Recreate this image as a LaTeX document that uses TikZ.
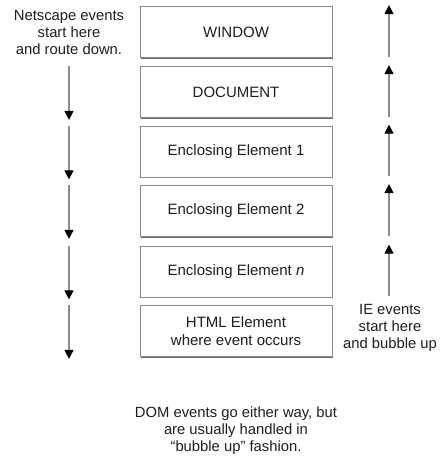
\documentclass[tikz,border=0pt]{standalone}
\usepackage{fontspec}
\setmainfont{Liberation Sans}
\usetikzlibrary{shadows,arrows.meta}
\definecolor{txt}{HTML}{1E1E1E}
\definecolor{edge}{HTML}{8A8A8A}
\definecolor{shade}{HTML}{6E6E6E}
\definecolor{flowline}{HTML}{8C8C8C}
\tikzset{
  layer/.style={draw=edge, line width=0.8pt, fill=white, minimum width=192pt, minimum height=51pt,
    inner sep=0pt, align=center, text=txt, font=\fontsize{15}{18}\selectfont,
    drop shadow={shadow xshift=1.4pt, shadow yshift=-1.4pt, fill=shade, opacity=1}},
  note/.style={align=center, text=txt, inner sep=0pt, font=\fontsize{14.8}{17}\selectfont},
  flow/.style={draw=flowline, line width=1.1pt, -{Triangle[length=9pt,width=9pt,fill=black,color=black]}}
}
\begin{document}
\begin{tikzpicture}[x=1pt,y=-1pt]
\useasboundingbox (0,0) rectangle (441,462);
\node[layer] (b1) at (236,32) {WINDOW};
\node[layer] (b2) at (236,92) {DOCUMENT};
\node[layer] (b3) at (236,151.5) {Enclosing Element 1};
\node[layer] (b4) at (236,211) {Enclosing Element 2};
\node[layer] (b5) at (236,271.5) {Enclosing Element \textit{n}};
\node[layer] (b6) at (236,331) {HTML Element\\where event occurs};
\coordinate (L) at (69,0);
\coordinate (R) at (389,0);
\node[note] (ns) at (69,32) {Netscape events\\start here\\and route down.};
\node[note] (ie) at (390,328) {IE events\\start here\\and bubble up};
\node[note] (dom) at (236,431) {DOM events go either way, but\\are usually handled in\\``bubble up'' fashion.};
\foreach \k in {2,...,6}{
  \draw[flow] (b\k.north -| L) -- ([yshift=-2pt]b\k.south -| L);
}
\foreach \k in {1,...,5}{
  \draw[flow] ([yshift=1pt]b\k.south -| R) -- ([yshift=1pt]b\k.north -| R);
}
\end{tikzpicture}
\end{document}
